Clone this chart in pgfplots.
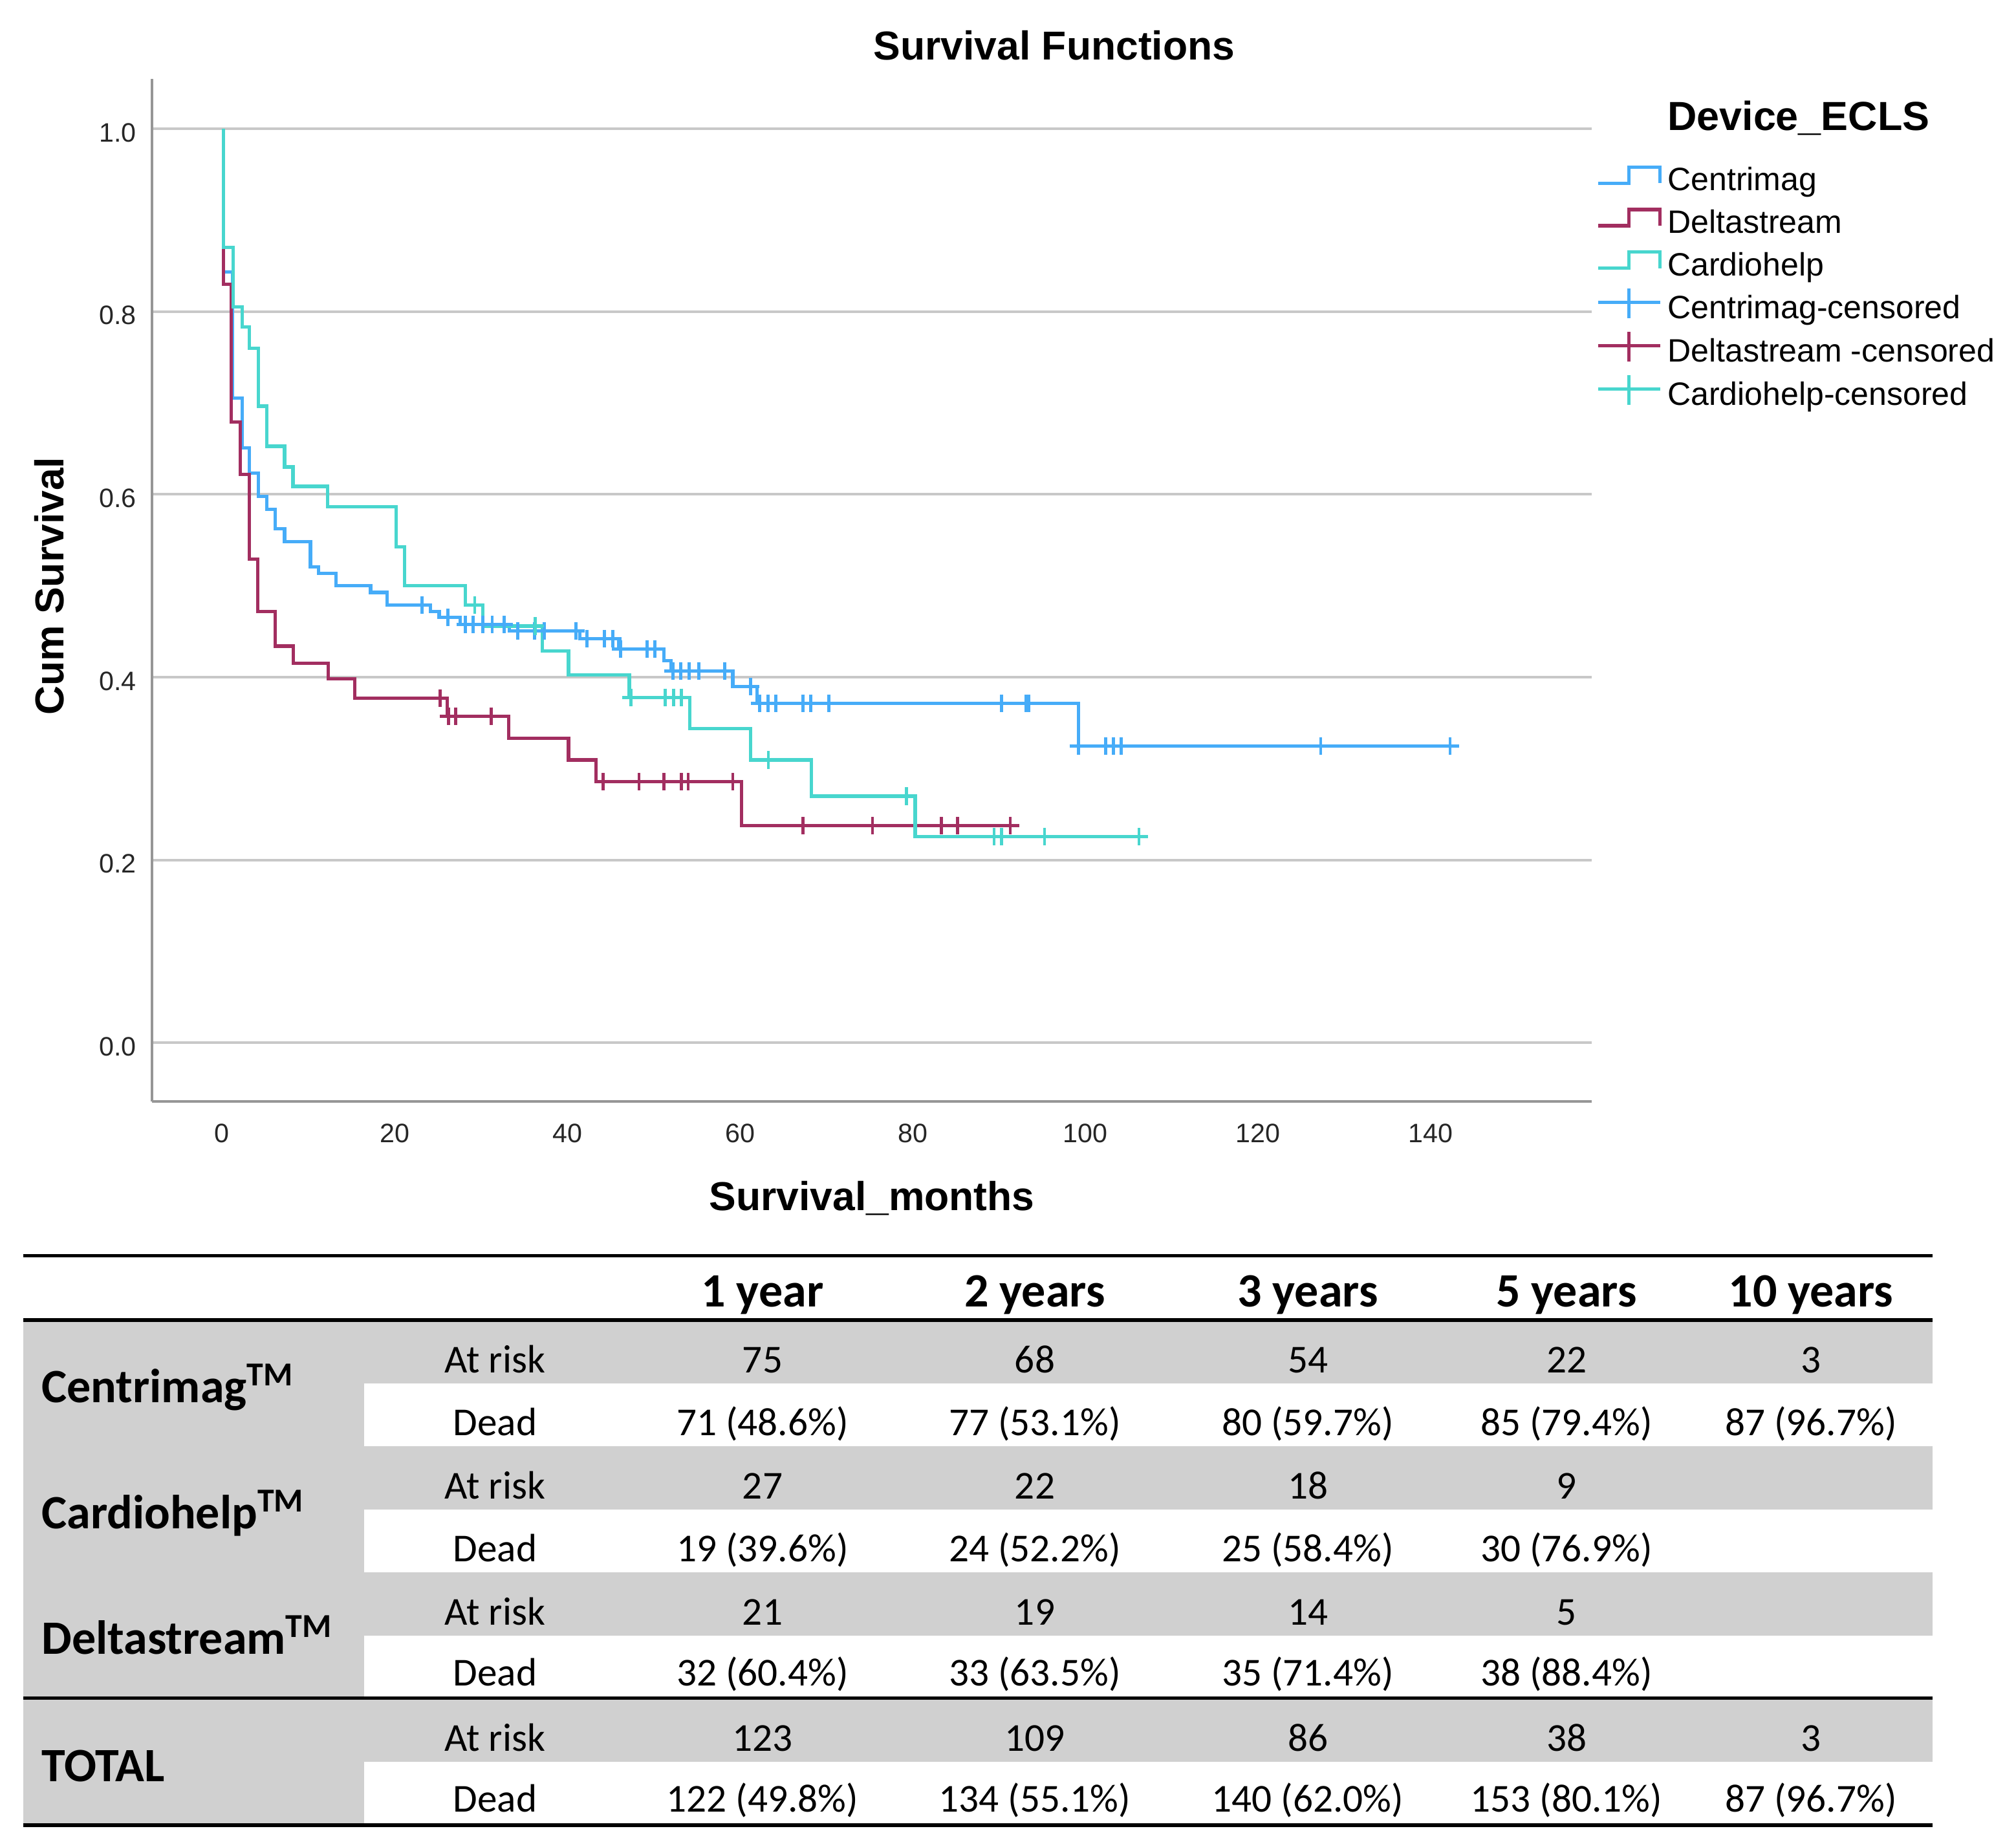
\documentclass[border=0pt]{standalone}
\usepackage{fontspec}
\setmainfont{Liberation Sans}
\newfontfamily\tabfont{Carlito}
\usepackage{pgfplots}
\pgfplotsset{compat=1.18}

\definecolor{cmag}{RGB}{70,172,248}
\definecolor{dstr}{RGB}{162,46,96}
\definecolor{chelp}{RGB}{72,214,206}
\definecolor{gridc}{RGB}{200,200,200}
\definecolor{axc}{RGB}{150,150,150}
\definecolor{tabgray}{RGB}{208,208,208}

% step curve and censor marks, with SPSS-like legend icons
\pgfplotsset{
  kmline/.style={const plot, #1, line width=1.3pt, mark=none,
    legend image code/.code={\draw[#1,line width=1.3pt] (0pt,-0.9pt) -- (12pt,-0.9pt) -- (12pt,5.35pt) -- (24pt,5.35pt) -- (24pt,-0.9pt);}},
  kmcens/.style={only marks, mark=+, mark size=3.4pt, mark options={#1, line width=1.2pt}, #1,
    legend image code/.code={\draw[#1,line width=1.2pt] (0pt,2.5pt) -- (24pt,2.5pt) (12pt,-3.6pt) -- (12pt,7.9pt);}},
}

\newcommand{\tabtxt}{\tabfont\fontsize{15.3}{17}\selectfont}
\newcommand{\tabhead}{\tabfont\fontsize{18.5}{20}\selectfont\bfseries}

\begin{document}
\begin{tikzpicture}
\begin{scope}[x=0.5pt,y=-0.5pt]
\path[use as bounding box] (0,0) rectangle (1558.5,1424);
\end{scope}

\begin{axis}[
  at={(58.75pt,-425.85pt)}, anchor=south west,
  scale only axis, width=556.5pt, height=395.45pt,
  xmin=-8.09, xmax=158.63, ymin=-0.0644, ymax=1.0548,
  axis x line*=bottom, axis y line*=left,
  axis line style={axc, line width=1pt},
  xtick={0,20,40,60,80,100,120,140},
  ytick={0,0.2,0.4,0.6,0.8,1},
  major tick length=0pt,
  ymajorgrids, grid style={gridc, line width=1pt},
  /pgf/number format/assume math mode=true,
  ticklabel style={font=\fontsize{10.3}{12}\selectfont, text=black!85},
  xticklabel style={inner sep=0pt, anchor=north, yshift=-8.5pt},
  yticklabel style={inner sep=0pt, anchor=east, xshift=-5.85pt, yshift=-1.5pt,
    /pgf/number format/.cd, fixed, fixed zerofill, precision=1},
  xlabel={Survival\_months},
  xlabel style={at={(axis description cs:0.5,-0.1063)}, anchor=base, inner sep=0pt,
    font=\fontsize{15.6}{18}\selectfont\bfseries},
  ylabel={Cum Survival},
  ylabel style={at={(axis description cs:-0.0714,0.504)}, anchor=center, inner sep=0pt,
    font=\fontsize{15.6}{18}\selectfont\bfseries},
  legend style={at={(axis description cs:1.00314,0.9798)}, anchor=north west,
    draw=none, fill=none, inner sep=0pt, outer sep=0pt,
    font=\fontsize{12.5}{15}\selectfont, row sep=0pt,
    nodes={inner sep=0pt, outer sep=0pt, text height=12pt, text depth=4.4pt},
    /tikz/every odd column/.append style={column sep=2.3pt}},
  legend cell align=left,
]
\addlegendimage{empty legend}
\addlegendentry[text depth=11.35pt]{\fontsize{15.7}{18}\selectfont\bfseries Device\_ECLS}

% Centrimag
\addplot[kmline=cmag] table {
x y
0.2 1.0
0.2 0.8436
1.23 0.7054
2.34 0.6506
3.19 0.6234
4.25 0.5977
5.21 0.5834
6.16 0.5623
7.26 0.548
10.26 0.5205
11.19 0.5135
13.2 0.500
17.22 0.4928
19.13 0.479
24.16 0.4717
25.17 0.4656
27.58 0.4575
33.26 0.4506
41.46 0.4420
45.98 0.431
51.21 0.418
52.02 0.4065
59.16 0.3898
62.0 0.3716
99.18 0.3246
143.2 0.3246
};
\addlegendentry{Centrimag}

% Deltastream
\addplot[kmline=dstr] table {
x y
0.2 1.0
0.2 0.83
1.09 0.679
2.14 0.622
3.19 0.529
4.15 0.472
6.16 0.434
8.27 0.415
12.29 0.398
15.41 0.377
26.12 0.3575
33.21 0.333
40.15 0.3095
43.32 0.2857
60.17 0.2374
92.05 0.2374
};
\addlegendentry{Deltastream}

% Cardiohelp
\addplot[kmline=chelp] table {
x y
0.2 1.0
0.2 0.870
1.28 0.805
2.34 0.783
3.19 0.760
4.25 0.6965
5.21 0.6526
7.26 0.630
8.23 0.6087
12.27 0.5867
20.19 0.5428
21.14 0.500
28.18 0.479
30.2 0.456
37.13 0.4286
40.15 0.4027
47.19 0.378
54.18 0.344
61.22 0.3095
68.26 0.2698
80.28 0.2254
107.23 0.2254
};
\addlegendentry{Cardiohelp}

% censored
\addplot[kmcens=cmag] table {
x y
23.2 0.479
26.17 0.4656
28.18 0.4575
29.09 0.4575
30.2 0.4575
31.3 0.4575
32.7 0.4575
34.27 0.4506
36.23 0.4506
37.34 0.4506
41.0 0.4506
42.26 0.442
44.27 0.442
45.28 0.442
46.19 0.431
49.25 0.431
50.16 0.431
52.22 0.4065
53.12 0.4065
54.13 0.4065
55.24 0.4065
58.25 0.4065
61.22 0.3898
62.28 0.3716
63.23 0.3716
64.14 0.3716
67.3 0.3716
68.21 0.3716
70.27 0.3716
90.3 0.3716
93.15 0.3716
93.45 0.3716
99.18 0.3246
102.35 0.3246
103.26 0.3246
104.16 0.3246
127.25 0.3246
142.23 0.3246
};
\addlegendentry{Centrimag-censored}

\addplot[kmcens=dstr] table {
x y
25.27 0.377
26.27 0.3575
27.08 0.3575
31.2 0.3575
44.17 0.2857
48.3 0.2857
51.21 0.2857
53.2 0.2857
54.0 0.2857
59.16 0.2857
67.3 0.2374
75.35 0.2374
83.3 0.2374
85.2 0.2374
91.3 0.2374
};
\addlegendentry{Deltastream -censored}

\addplot[kmcens=chelp] table {
x y
29.29 0.479
36.28 0.456
47.4 0.378
51.31 0.378
52.32 0.378
53.2 0.378
63.28 0.3095
79.27 0.2698
89.43 0.2254
90.3 0.2254
95.26 0.2254
106.2 0.2254
};
\addlegendentry{Cardiohelp-censored}
\end{axis}

\begin{scope}[x=0.5pt,y=-0.5pt]
\node[anchor=base, inner sep=0pt, font=\fontsize{15.6}{18}\selectfont\bfseries] at (815,46.5) {Survival Functions};

% table backgrounds
\fill[tabgray] (17.9,1021.5) rectangle (281.3,1311.8);
\fill[tabgray] (17.9,1313.6) rectangle (281.3,1410);
\fill[tabgray] (281.3,1021.5) rectangle (1494,1069.7);
\fill[tabgray] (281.3,1118) rectangle (1494,1167);
\fill[tabgray] (281.3,1215.7) rectangle (1494,1264.5);
\fill[tabgray] (281.3,1313.6) rectangle (1494,1362);
% rules
\draw[line width=1.3pt] (17.9,970.6) -- (1494,970.6);
\draw[line width=1.4pt] (17.9,1020.6) -- (1494,1020.6);
\draw[line width=1.3pt] (17.9,1312.7) -- (1494,1312.7);
\draw[line width=1.3pt] (17.9,1411) -- (1494,1411);

% header
\foreach \cx/\t in {589.5/1 year, 800/2 years, 1011/3 years, 1211/5 years, 1400/10 years}
  \node[anchor=base, inner sep=0pt, font=\tabhead] at (\cx,1010) {\t};

% group labels
\node[anchor=base west, inner sep=0pt, font=\tabhead] at (31.8,1084) {Centrimag\textsuperscript{TM}};
\node[anchor=base west, inner sep=0pt, font=\tabhead] at (31.8,1181.5) {Cardiohelp\textsuperscript{TM}};
\node[anchor=base west, inner sep=0pt, font=\tabhead] at (31.8,1278.5) {Deltastream\textsuperscript{TM}};
\node[anchor=base west, inner sep=0pt, font=\tabhead] at (31.8,1377) {TOTAL};

% row labels
\foreach \ry in {1061.3,1158.6,1256.1,1353.6}
  \node[anchor=base, inner sep=0pt, font=\tabtxt] at (382.7,\ry) {At risk};
\foreach \ry in {1109.7,1207.3,1303.1,1400.6}
  \node[anchor=base, inner sep=0pt, font=\tabtxt] at (382.7,\ry) {Dead};

% Centrimag
\foreach \cx/\t in {589.5/75, 800/68, 1011/54, 1211/22, 1400/3}
  \node[anchor=base, inner sep=0pt, font=\tabtxt] at (\cx,1061.3) {\t};
\foreach \cx/\t in {589.5/71 (48.6\%), 800/77 (53.1\%), 1011/80 (59.7\%), 1211/85 (79.4\%), 1400/87 (96.7\%)}
  \node[anchor=base, inner sep=0pt, font=\tabtxt] at (\cx,1109.7) {\t};
% Cardiohelp
\foreach \cx/\t in {589.5/27, 800/22, 1011/18, 1211/9}
  \node[anchor=base, inner sep=0pt, font=\tabtxt] at (\cx,1158.6) {\t};
\foreach \cx/\t in {589.5/19 (39.6\%), 800/24 (52.2\%), 1011/25 (58.4\%), 1211/30 (76.9\%)}
  \node[anchor=base, inner sep=0pt, font=\tabtxt] at (\cx,1207.3) {\t};
% Deltastream
\foreach \cx/\t in {589.5/21, 800/19, 1011/14, 1211/5}
  \node[anchor=base, inner sep=0pt, font=\tabtxt] at (\cx,1256.1) {\t};
\foreach \cx/\t in {589.5/32 (60.4\%), 800/33 (63.5\%), 1011/35 (71.4\%), 1211/38 (88.4\%)}
  \node[anchor=base, inner sep=0pt, font=\tabtxt] at (\cx,1303.1) {\t};
% TOTAL
\foreach \cx/\t in {589.5/123, 800/109, 1011/86, 1211/38, 1400/3}
  \node[anchor=base, inner sep=0pt, font=\tabtxt] at (\cx,1353.6) {\t};
\foreach \cx/\t in {589.5/122 (49.8\%), 800/134 (55.1\%), 1011/140 (62.0\%), 1211/153 (80.1\%), 1400/87 (96.7\%)}
  \node[anchor=base, inner sep=0pt, font=\tabtxt] at (\cx,1400.6) {\t};
\end{scope}
\end{tikzpicture}
\end{document}
